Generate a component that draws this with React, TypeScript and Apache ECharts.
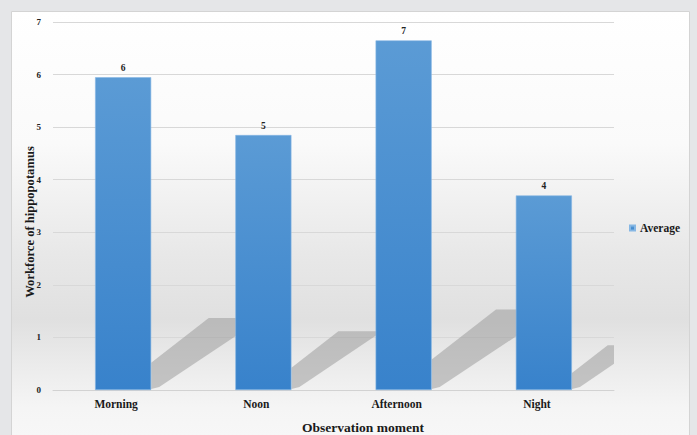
import React, { useEffect, useRef } from "react";
import * as echarts from "echarts";

const categories = ["Morning", "Noon", "Afternoon", "Night"];
const averageValues = [5.95, 4.85, 6.65, 3.7];
const yTicks = [0, 1, 2, 3, 4, 5, 6, 7];
const xTitle = "Observation moment";
const yTitle = "Workforce of hippopotamus";

const FONT = "'Liberation Serif', 'Times New Roman', serif";

export default function App() {
  const ref = useRef<HTMLDivElement>(null);
  useEffect(() => {
    if (!ref.current) return;
    const chart = echarts.init(ref.current, undefined, { renderer: "svg" });
    const shadowData = averageValues.map((v, i) => [i, v]);
    chart.setOption({
      animation: false,
      backgroundColor: "#e5e6e8",
      graphic: [
        {
          type: "rect",
          z: -10,
          silent: true,
          shape: { x: 11.5, y: 11.5, width: 678, height: 440 },
          style: {
            fill: new echarts.graphic.LinearGradient(0, 0, 0, 1, [
              { offset: 0, color: "#ffffff" },
              { offset: 0.3, color: "#fafafa" },
              { offset: 0.55, color: "#e8e8e8" },
              { offset: 0.7, color: "#e0e0e0" },
              { offset: 0.8, color: "#ebebeb" },
              { offset: 0.9, color: "#f5f5f5" },
              { offset: 1, color: "#f8f8f8" },
            ]),
            stroke: "#d4d4d4",
            lineWidth: 1,
          },
        },
        {
          type: "text",
          silent: true,
          x: 363,
          y: 427,
          style: {
            text: xTitle,
            fontFamily: FONT,
            fontWeight: "bold",
            fontSize: 13.5,
            fill: "#1a1a1a",
            align: "center",
            verticalAlign: "middle",
          },
        },
        {
          type: "text",
          silent: true,
          x: 29.5,
          y: 222,
          rotation: Math.PI / 2,
          style: {
            text: yTitle,
            fontFamily: FONT,
            fontWeight: "bold",
            fontSize: 12.6,
            fill: "#1a1a1a",
            align: "center",
            verticalAlign: "middle",
          },
        },
      ],
      grid: { left: 53, top: 22, width: 561, height: 368, containLabel: false },
      legend: {
        data: ["Average"],
        left: 624,
        top: 217,
        icon: "rect",
        itemWidth: 5,
        itemHeight: 5,
        itemGap: 4,
        textStyle: { fontFamily: FONT, fontWeight: "bold", fontSize: 11.5, color: "#1a1a1a" },
      },
      xAxis: {
        type: "category",
        data: categories,
        axisLine: { lineStyle: { color: "#d2d2d2" } },
        axisTick: { show: false },
        axisLabel: {
          fontFamily: FONT,
          fontWeight: "bold",
          fontSize: 11.5,
          color: "#1a1a1a",
          margin: 8,
          padding: [0, 14, 0, 0],
        },
      },
      yAxis: {
        type: "value",
        min: 0,
        max: 7,
        interval: 1,
        axisLine: { show: false },
        axisTick: { show: false },
        axisLabel: {
          fontFamily: FONT,
          fontWeight: "bold",
          fontSize: 9,
          color: "#222",
          margin: 12,
          formatter: (v: number) => (yTicks.includes(v) ? String(v) : ""),
        },
        splitLine: { lineStyle: { color: "#d8d8d8" } },
      },
      series: [
        {
          type: "custom",
          name: "shadow",
          z: 1,
          silent: true,
          clip: true,
          data: shadowData,
          renderItem: (params: any, api: any) => {
            const idx = api.value(0);
            const v = api.value(1);
            const base = api.coord([idx, 0]);
            const top = api.coord([idx, v]);
            const catW = api.size([1, 0])[0];
            const bw = catW * 0.4;
            const xr = base[0] + bw / 2;
            const h = (base[1] - top[1]) * 0.23;
            const b = base[1];
            return {
              type: "polygon",
              shape: {
                points: [
                  [xr, b - 0.38 * h],
                  [xr + 0.8 * h, b - h],
                  [xr + 1.55 * h, b - h],
                  [xr + 8, b - 3],
                  [xr, b - 1],
                ],
              },
              style: { fill: "rgba(150,150,150,0.5)" },
            };
          },
        },
        {
          type: "bar",
          name: "Average",
          z: 3,
          data: averageValues,
          barWidth: "40%",
          itemStyle: {
            color: new echarts.graphic.LinearGradient(0, 0, 0, 1, [
              { offset: 0, color: "#5b9bd5" },
              { offset: 1, color: "#3882cb" },
            ]),
            borderColor: "#86b7e4",
            borderWidth: 0.6,
          },
          label: {
            show: true,
            position: "top",
            distance: 4,
            fontFamily: FONT,
            fontWeight: "bold",
            fontSize: 9.5,
            color: "#222",
            formatter: (p: any) => String(Math.round(p.value)),
          },
        },
      ],
    });
    return () => chart.dispose();
  }, []);
  return (
    <div
      ref={ref}
      style={{ position: "fixed", left: 0, top: 0, width: 697, height: 435 }}
    />
  );
}
